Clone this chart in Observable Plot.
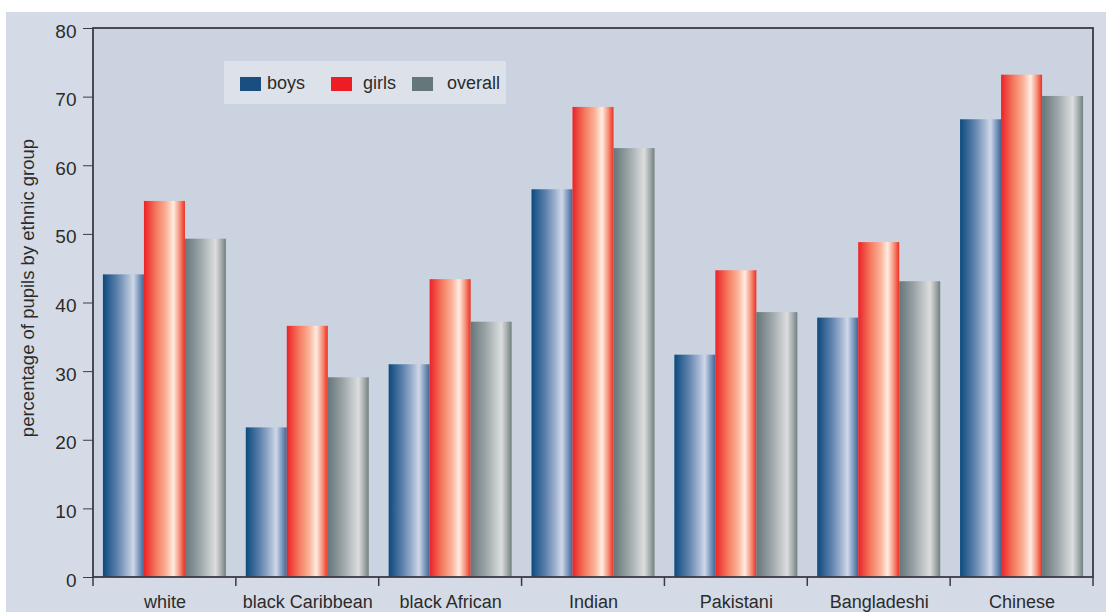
<!DOCTYPE html>
<html>
<head>
<meta charset="utf-8">
<script src="https://cdn.jsdelivr.net/npm/d3@7"></script>
<script src="https://cdn.jsdelivr.net/npm/@observablehq/plot@0.6"></script>
<style>
  html, body { margin: 0; padding: 0; background: #ffffff; }
  #wrap { position: relative; width: 1106px; height: 612px; overflow: hidden;
          font-family: "Liberation Sans", Arial, sans-serif; color: #2b2b2b; }
  #panel { position: absolute; left: 6px; top: 12px; right: 0; bottom: 0; background: #d5dbe6; }
  #chart { position: absolute; left: 0; top: 0; }
  #ytitle { position: absolute; left: 28px; top: 288px; transform: translate(-50%, -50%) rotate(-90deg);
            white-space: nowrap; font-size: 18.5px; }
  #legend { position: absolute; left: 224px; top: 61px; width: 282px; height: 43px; background: #dde2ea;
            font-size: 18px; }
  #legend .item { position: absolute; top: 1px; height: 43px; display: flex; align-items: center; }
  #legend .sw { display: inline-block; width: 21px; height: 14px; margin-right: 6px; }
</style>
</head>
<body>
<div id="wrap">
  <div id="panel"></div>
  <div id="chart"></div>
  <div id="ytitle">percentage of pupils by ethnic group</div>
  <div id="legend"></div>
</div>
<script>
// Ethnic groups along the bottom axis
const groups = ["white", "black Caribbean", "black African", "Indian", "Pakistani", "Bangladeshi", "Chinese"];
// Series shown within each group
const series = ["boys", "girls", "overall"];
// Percentages per group, one array per series
const boys    = [44.1, 21.8, 31.0, 56.5, 32.4, 37.8, 66.7];
const girls   = [54.8, 36.6, 43.4, 68.5, 44.7, 48.8, 73.2];
const overall = [49.3, 29.1, 37.2, 62.5, 38.6, 43.1, 70.1];
// Y axis ticks
const yTicks = [0, 10, 20, 30, 40, 50, 60, 70, 80];

// Solid legend colours and the shaded bar fills
const swatch = { boys: "#184e80", girls: "#ee1c25", overall: "#647779" };
const shading = {
  boys:    [[0, "#0b4a7d"], [0.35, "#5f82ad"], [0.6, "#a5b6d1"], [0.74, "#cfd8e8"], [0.86, "#8aa2c4"], [1, "#3d6796"]],
  girls:   [[0, "#ec2227"], [0.3, "#f47a5e"], [0.55, "#fbb39a"], [0.72, "#ffece2"], [0.87, "#f6927a"], [1, "#ee2d22"]],
  overall: [[0, "#667679"], [0.35, "#98a2a5"], [0.6, "#c4c8ca"], [0.75, "#dcdddd"], [0.88, "#a7aeb0"], [1, "#72807f"]]
};

const valuesBySeries = { boys, girls, overall };
const rows = groups.flatMap((g, i) => series.map(s => ({ group: g, series: s, value: valuesBySeries[s][i] })));

const ink = "#3b3a44";
const chart = Plot.plot({
  width: 1106,
  height: 612,
  marginLeft: 93,
  marginRight: 13,
  marginTop: 28,
  marginBottom: 35,
  style: { background: "transparent", fontFamily: "'Liberation Sans', Arial, sans-serif", fontSize: "18px", color: "#2b2b2b" },
  fx: { domain: groups, padding: 0, round: false, label: null },
  x: { domain: series, paddingInner: 0, paddingOuter: 0.242, round: false, axis: null },
  y: { domain: [0, 80], axis: null },
  color: { domain: series, range: series.map(s => `url(#shade-${s})`) },
  marks: [
    Plot.barY(rows, { fx: "group", x: "series", y: "value", fill: "series" }),
    // tick lines, then the tick labels sitting a little below each tick
    Plot.axisY({ ticks: yTicks, tickSize: 10, text: null, label: null, stroke: ink }),
    Plot.axisY({ ticks: yTicks, tickSize: 0, tickPadding: 17, dy: 3, label: null, fontSize: 19 }),
    Plot.axisFx({ anchor: "bottom", tickSize: 0, tickPadding: 18, label: null })
  ]
});

const svg = d3.select(chart);
// gradient definitions for the bar fills
const defs = svg.insert("defs", ":first-child");
for (const s of series) {
  const lg = defs.append("linearGradient").attr("id", `shade-${s}`).attr("x1", 0).attr("x2", 1).attr("y1", 0).attr("y2", 0);
  for (const [o, c] of shading[s]) lg.append("stop").attr("offset", o).attr("stop-color", c);
}

const fx = chart.scale("fx");
const y = chart.scale("y");
const [yBottom, yTop] = y.range;
const left = fx.apply(groups[0]);
const right = fx.apply(groups[groups.length - 1]) + fx.bandwidth;

// plot area background, behind everything else
svg.insert("rect", "defs + *")
  .attr("x", left).attr("y", yTop).attr("width", right - left).attr("height", yBottom - yTop)
  .attr("fill", "#cbd3e0");

// frame around the plot area
svg.append("rect")
  .attr("x", left).attr("y", yTop).attr("width", right - left).attr("height", yBottom - yTop)
  .attr("fill", "none").attr("stroke", ink).attr("stroke-width", 1.8);

// tick marks at the group boundaries
const bounds = groups.map(g => fx.apply(g)).concat([right]);
svg.append("g").attr("stroke", ink).attr("stroke-width", 1.5)
  .selectAll("line").data(bounds).join("line")
  .attr("x1", d => d).attr("x2", d => d).attr("y1", yBottom).attr("y2", yBottom + 9);

document.getElementById("chart").appendChild(chart);

// legend
const legend = d3.select("#legend");
const lx = { boys: [16, 43], girls: [107, 139], overall: [188, 223] };
for (const s of series) {
  const item = legend.append("div").attr("class", "item").style("left", lx[s][0] + "px");
  item.append("span").attr("class", "sw").style("background", swatch[s])
    .style("margin-right", (lx[s][1] - lx[s][0] - 21) + "px");
  item.append("span").text(s);
}
</script>
</body>
</html>
